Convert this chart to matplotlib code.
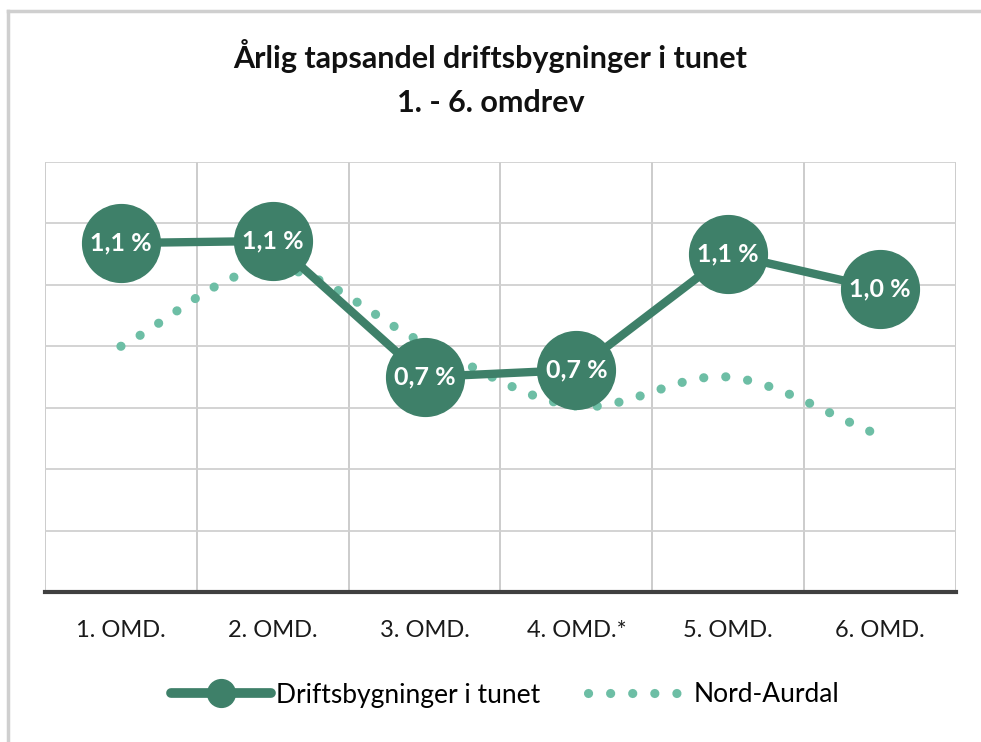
import numpy as np
import matplotlib
matplotlib.use("Agg")
import matplotlib.pyplot as plt
from matplotlib.lines import Line2D

categories = ["1. OMD.", "2. OMD.", "3. OMD.", "4. OMD.*", "5. OMD.", "6. OMD."]
drift = [1.136, 1.143, 0.70, 0.723, 1.10, 0.987]
nord_aurdal = [0.80, 1.055, 0.81, 0.605, 0.70, 0.51]
title = "Årlig tapsandel driftsbygninger i tunet\n1. - 6. omdrev"
series_names = ["Driftsbygninger i tunet", "Nord-Aurdal"]

plt.rcParams['font.family'] = ['Lato', 'DejaVu Sans']

dark = "#3e8069"
light = "#6dbea5"

W, H = 981, 742
fig = plt.figure(figsize=(W / 100, H / 100), dpi=100)
ax = fig.add_axes([45 / W, 1 - 592 / H, (956 - 45) / W, (592 - 162) / H])

x = np.arange(len(categories))

def smooth(xs, ys, n=30):
    xs = np.asarray(xs, float); ys = np.asarray(ys, float)
    px = np.concatenate([[2 * xs[0] - xs[1]], xs, [2 * xs[-1] - xs[-2]]])
    py = np.concatenate([[2 * ys[0] - ys[1]], ys, [2 * ys[-1] - ys[-2]]])
    outx, outy = [], []
    for i in range(1, len(px) - 2):
        t = np.linspace(0, 1, n, endpoint=False)
        for arr, out in ((px, outx), (py, outy)):
            p0, p1, p2, p3 = arr[i - 1], arr[i], arr[i + 1], arr[i + 2]
            out.extend(0.5 * ((2 * p1) + (-p0 + p2) * t + (2 * p0 - 5 * p1 + 4 * p2 - p3) * t ** 2
                              + (-p0 + 3 * p1 - 3 * p2 + p3) * t ** 3))
    outx.append(xs[-1]); outy.append(ys[-1])
    return np.array(outx), np.array(outy)

dot_style = (0, (0.01, 2.4))
sx, sy = smooth(x, nord_aurdal)
ax.plot(sx, sy, color=light, lw=6.6, linestyle=dot_style, dash_capstyle='round', zorder=2)

ax.plot(x, drift, color=dark, lw=6, marker='o', markersize=56, markerfacecolor=dark,
        markeredgecolor=dark, solid_capstyle='round', zorder=3)
for xi, v in zip(x, drift):
    ax.text(xi, v, f"{v:.1f}".replace('.', ',') + " %", ha='center', va='center',
            color='white', fontsize=18, fontweight='bold', zorder=4)

ax.set_xlim(-0.5, len(categories) - 0.5)
ax.set_ylim(0, 1.4)
ax.set_yticks(np.arange(0, 1.41, 0.2))
ax.set_yticklabels([])
ax.tick_params(axis='y', length=0)
ax.set_xticks(x)
ax.set_xticklabels(categories, fontsize=17, color='#1a1a1a')
ax.set_xticks(np.arange(-0.5, len(categories)), minor=True)
ax.tick_params(axis='x', which='major', length=0, pad=20)
ax.tick_params(axis='x', which='minor', length=0)
ax.grid(True, axis='y', color='#d0d0d0', lw=1.3)
ax.grid(True, axis='x', which='minor', color='#c8c8c8', lw=1.3)
for s in ['top', 'right', 'left']:
    ax.spines[s].set_visible(False)
ax.spines['bottom'].set_color('#404040')
ax.spines['bottom'].set_linewidth(3)
ax.set_axisbelow(True)

fig.text(0.5, 1 - 78 / H, title, ha='center', va='center', fontsize=22, fontweight='bold',
         linespacing=1.7, color='#111111')

handles = [
    Line2D([], [], color=dark, lw=7, marker='o', markersize=20, solid_capstyle='round'),
    Line2D([], [], color=light, lw=6.6, linestyle=dot_style, dash_capstyle='round'),
]
fig.legend(handles, series_names, loc='center', bbox_to_anchor=(0.515, 1 - 695 / H),
           ncol=2, frameon=False, fontsize=19, handlelength=3.8, columnspacing=1.8,
           handletextpad=0.2)

# outer border
fig.add_artist(Line2D([8 / W, 8 / W], [0, 1 - 11 / H], transform=fig.transFigure, color='#cfcfcf', lw=2.5))
fig.add_artist(Line2D([8 / W, 1], [1 - 11 / H, 1 - 11 / H], transform=fig.transFigure, color='#cfcfcf', lw=2.5))

fig.savefig("out.png", dpi=100)
